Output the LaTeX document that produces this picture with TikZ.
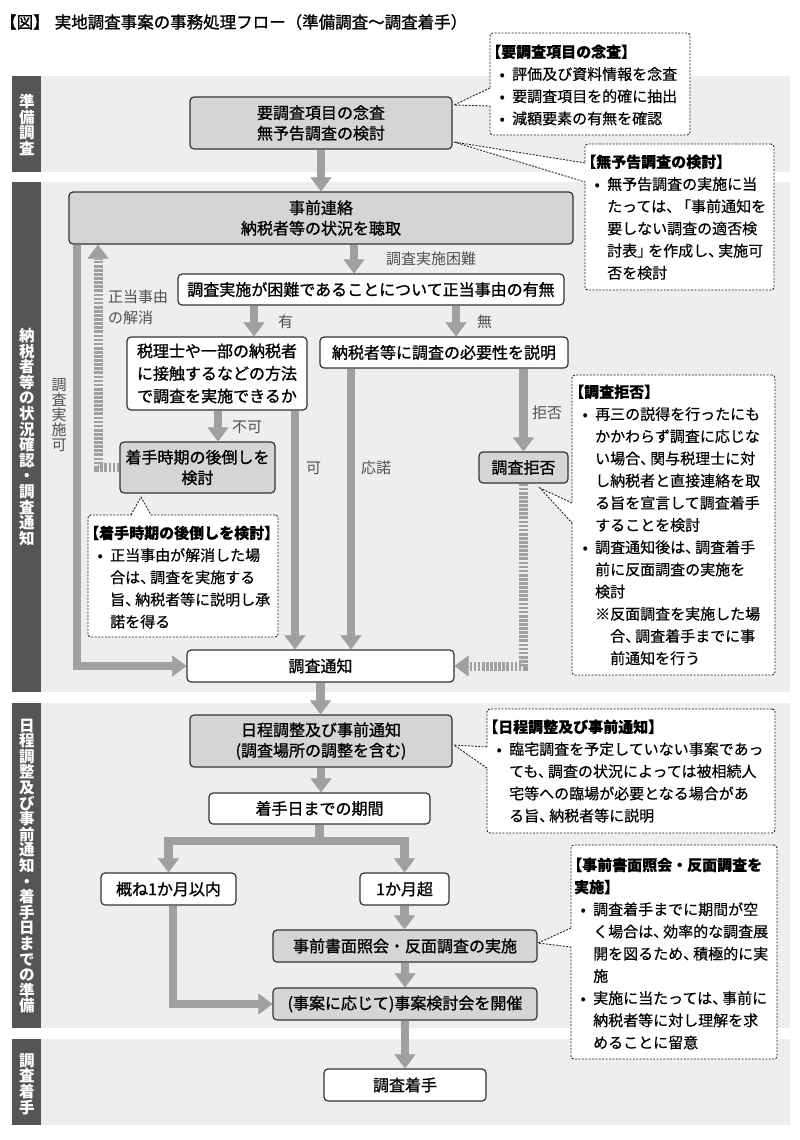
\documentclass[tikz,border=0pt]{standalone}
\usepackage{fontspec}
\newfontfamily\jp{Noto Sans CJK JP}
\newfontfamily\jpc[FakeBold=0.4]{Noto Sans CJK JP}
\newfontfamily\jpm[FakeBold=1.2]{Noto Sans CJK JP}
\usetikzlibrary{arrows.meta,calc}
\definecolor{bandc}{HTML}{EEEEEE}
\definecolor{sidec}{HTML}{555555}
\definecolor{boxg}{HTML}{D5D5D5}
\definecolor{arrc}{HTML}{A0A0A0}
\definecolor{linec}{HTML}{333333}
\definecolor{labc}{HTML}{505050}
\newcommand\cbul{\makebox[22pt][l]{\hspace*{8pt}\makebox[8pt][c]{•}}}
\newcommand\cind{\hspace*{22pt}}
\newcommand\tten{、\kern-5pt}
\newcommand\lbk{\kern-4pt}
\newcommand\tightls{\lineskiplimit=-20pt\lineskip=0pt}
\tikzset{
 box/.style={draw=linec, line width=1.2pt, rounded corners=4pt, fill=white, inner sep=0pt, align=center, font=\jpm\fontsize{16}{20.5}\selectfont},
 gbox/.style={box, fill=boxg},
 arr/.style={draw=arrc, line width=8.5pt, -{Triangle[width=21pt,length=14pt,line width=0.4pt]}},
 darr/.style={draw=arrc, line width=9pt, dash pattern=on 2.7pt off 1.4pt, -{Triangle[width=21pt,length=14pt,line width=0.4pt]}},
 cframe/.style={draw=black!85, line width=0.9pt, dash pattern=on 2pt off 1.4pt, rounded corners=3pt, fill=white, inner sep=0pt},
 cdash/.style={draw=black!85, line width=0.9pt, dash pattern=on 2pt off 1.4pt},
 ctext/.style={anchor=north west, inner sep=0pt, align=left, font=\jpc\fontsize{15}{22.2}\selectfont},
 lab/.style={inner sep=0pt, text=labc, font=\jp\fontsize{15}{15.2}\selectfont\tightls},
 side/.style={fill=sidec, draw=none},
 band/.style={fill=bandc, draw=none},
 sidetext/.style={text=white, inner sep=0pt, align=center, font=\jp\bfseries\fontsize{15.5}{15.6}\selectfont\tightls},
}
\begin{document}
\begin{tikzpicture}[x=1pt,y=-1pt]
\useasboundingbox (0,0) rectangle (800,1140);
\fill[white] (0,0) rectangle (800,1140);
% title
\node[anchor=west, inner sep=0pt, font=\jpm\fontsize{16.5}{20}\selectfont] (title) at (0,22) {【図】\hspace{5pt}実地調査事案の事務処理フロー（準備調査～調査着手）};
% bands
\fill[band] (12,76) rectangle (790,172);
\fill[band] (12,182) rectangle (790,692);
\fill[band] (12,703) rectangle (790,1028);
\fill[band] (12,1039) rectangle (790,1125);
\fill[side] (12,76) rectangle (41,172);
\fill[side] (12,182) rectangle (41,692);
\fill[side] (12,703) rectangle (41,1028);
\fill[side] (12,1039) rectangle (41,1125);
\node[sidetext] (s1) at (27,125) {準\\備\\調\\査};
\node[sidetext] (s2) at (27,437) {納\\税\\者\\等\\の\\状\\況\\確\\認\\・\\調\\査\\通\\知};
\node[sidetext] (s3) at (27,866) {日\\程\\調\\整\\及\\び\\事\\前\\通\\知\\・\\着\\手\\日\\ま\\で\\の\\準\\備};
\node[sidetext] (s4) at (27,1084) {調\\査\\着\\手};
% boxes
\node[gbox, minimum width=262pt, minimum height=52pt] (b1) at (321,123) {要調査項目の念査\\無予告調査の検討};
\node[gbox, minimum width=504pt, minimum height=52pt] (b2) at (321,218) {事前連絡\\納税者等の状況を聴取};
\node[box, minimum width=386pt, minimum height=31pt] (b3) at (371,289.5) {調査実施が困難であることについて正当事由の有無};
\node[box, minimum width=180pt, minimum height=73pt, font=\jpm\fontsize{16}{22.5}\selectfont] (b4) at (217,373.5) {税理士や一部の納税者\\に接触するなどの方法\\で調査を実施できるか};
\node[box, minimum width=248pt, minimum height=31pt] (b5) at (444,352.5) {納税者等に調査の必要性を説明};
\node[gbox, minimum width=155pt, minimum height=51pt] (b6) at (197.5,467.5) {着手時期の後倒しを\\検討};
\node[gbox, minimum width=89pt, minimum height=31pt] (b7) at (523.5,467.5) {調査拒否};
\node[box, minimum width=267pt, minimum height=32pt] (b8) at (320.5,666) {調査通知};
\node[gbox, minimum width=262pt, minimum height=52pt] (b9) at (321,741) {日程調整及び事前通知\\(調査場所の調整を含む)};
\node[box, minimum width=221pt, minimum height=31pt] (b10) at (319.5,808.5) {着手日までの期間};
\node[box, minimum width=135pt, minimum height=32pt] (b11) at (168.5,889) {概ね1か月以内};
\node[box, minimum width=89pt, minimum height=32pt] (b12) at (404.5,889) {1か月超};
\node[gbox, minimum width=264pt, minimum height=32pt] (b13) at (405,946) {事前書面照会・反面調査の実施};
\node[gbox, minimum width=264pt, minimum height=32pt] (b14) at (405,1004) {(事案に応じて)事案検討会を開催};
\node[box, minimum width=162pt, minimum height=32pt] (b15) at (405,1085) {調査着手};
% column coordinates
\coordinate (x354) at (354,0);
\coordinate (x254) at (254,0);
\coordinate (x456) at (456,0);
\coordinate (x218) at (218,0);
\coordinate (x295) at (295,0);
\coordinate (x351) at (351,0);
\coordinate (x77) at (77,0);
\coordinate (x98) at (98,0);
\coordinate (x173) at (173,0);
\coordinate (ysplit) at (0,841);
% connectors
\draw[arr] (b1.south) -- (b1.south |- b2.north);
\draw[arr] (b2.south -| x354) -- (b3.north -| x354);
\draw[arr] (b3.south -| x254) -- (b4.north -| x254);
\draw[arr] (b3.south -| x456) -- (b5.north -| x456);
\draw[arr] (b4.south -| x218) -- (b6.north -| x218);
\draw[arr] (b4.south -| x295) -- (b8.north -| x295);
\draw[arr] (b5.south -| x351) -- (b8.north -| x351);
\draw[arr] (b5.south -| b7.north) -- (b7.north);
\draw[darr] (b7.south) |- (b8.east);
\draw[arr] (b2.south -| x77) |- (b8.west);
\draw[darr] (b6.west) -| (b2.south -| x98);
\draw[arr] (b8.south) -- (b8.south |- b9.north);
\draw[arr] (b9.south) -- (b9.south |- b10.north);
\draw[arr] (b10.south) -- (b10.south |- ysplit) -| (b11.north);
\draw[arr] (b10.south) -- (b10.south |- ysplit) -| (b12.north);
\draw[arr] (b12.south) -- (b12.south |- b13.north);
\draw[arr] (b13.south) -- (b13.south |- b14.north);
\draw[arr] (b11.south -| x173) |- (b14.west);
\draw[arr] (b14.south) -- (b14.south |- b15.north);
% labels
\node[lab, anchor=west] (l1) at (386,259) {調査実施困難};
\node[lab, anchor=west] (l2) at (278,322) {有};
\node[lab, anchor=west] (l3) at (477,322) {無};
\node[lab, anchor=west] (l4) at (232,427) {不可};
\node[lab, anchor=west] (l5) at (306,468) {可};
\node[lab, anchor=west] (l6) at (361,468) {応諾};
\node[lab, anchor=west] (l7) at (532,413) {拒否};
\node[lab, anchor=north west, align=left, font=\jp\fontsize{15}{21}\selectfont] (l8) at (108,289.5) {正当事由\\の解消};
\node[lab, align=center] (l9) at (59,415) {調\\査\\実\\施\\可};
% callout frames
\node[cframe, minimum width=200pt, minimum height=102pt] (cA) at (590,84) {};
\node[cframe, minimum width=189pt, minimum height=146pt] (cB) at (679.5,217) {};
\node[cframe, minimum width=190pt, minimum height=122pt] (cC) at (183,576) {};
\node[cframe, minimum width=203pt, minimum height=300pt] (cD) at (673.5,525) {};
\node[cframe, minimum width=288pt, minimum height=124pt] (cE) at (631,771) {};
\node[cframe, minimum width=206pt, minimum height=214pt] (cF) at (674,952) {};
% pointers
\coordinate (pA) at (454,105); \coordinate (pA1) at (490,88); \coordinate (pA2) at (490,106);
\coordinate (pB) at (454,142); \coordinate (pB1) at (585,163); \coordinate (pB2) at (585,182);
\coordinate (pC) at (141,497); \coordinate (pC1) at (131,515); \coordinate (pC2) at (151,515);
\coordinate (pD) at (540,488); \coordinate (pD1) at (572,503); \coordinate (pD2) at (572,523);
\coordinate (pE) at (454,745); \coordinate (pE1) at (487,747); \coordinate (pE2) at (487,768);
\coordinate (pF) at (538,943); \coordinate (pF1) at (571,928); \coordinate (pF2) at (571,947);
\foreach \p in {A,B,D,E,F}{
 \fill[white] (p\p) -- ($(p\p1)+(1.5,0)$) -- ($(p\p2)+(1.5,0)$) -- cycle;
 \draw[cdash] (p\p1) -- (p\p) -- (p\p2);
}
\fill[white] (pC) -- ($(pC1)+(0,1.5)$) -- ($(pC2)+(0,1.5)$) -- cycle;
\draw[cdash] (pC1) -- (pC) -- (pC2);
% callout texts
\node[ctext] (tA) at (490,44.5) {{\bfseries\lbk【要調査項目の念査】}\\
\cbul 評価及び資料情報を念査\\
\cbul 要調査項目を的確に抽出\\
\cbul 減額要素の有無を確認};
\node[ctext] (tB) at (585,154.5) {{\bfseries\lbk【無予告調査の検討】}\\
\cbul 無予告調査の実施に当\\
\cind たっては\tten「事前通知を\\
\cind 要しない調査の適否検\\
\cind 討表」\kern-4pt を作成し\tten 実施可\\
\cind 否を検討};
\node[ctext] (tC) at (88,525.5) {{\bfseries\lbk【着手時期の後倒しを検討】}\\
\cbul 正当事由が解消した場\\
\cind 合は\tten 調査を実施する\\
\cind 旨\tten 納税者等に説明し承\\
\cind 諾を得る};
\node[ctext] (tD) at (573,384.5) {{\bfseries\lbk【調査拒否】}\\
\cbul 再三の説得を行ったにも\\
\cind かかわらず調査に応じな\\
\cind い場合\tten 関与税理士に対\\
\cind し納税者と直接連絡を取\\
\cind る旨を宣言して調査着手\\
\cind することを検討\\
\cbul 調査通知後は\tten 調査着手\\
\cind 前に反面調査の実施を\\
\cind 検討\\
\cind ※反面調査を実施した場\\
\cind\hspace*{15pt}合\tten 調査着手までに事\\
\cind\hspace*{15pt}前通知を行う};
\node[ctext] (tE) at (487,719.5) {{\bfseries\lbk【日程調整及び事前通知】}\\
\cbul 臨宅調査を予定していない事案であっ\\
\cind ても\tten 調査の状況によっては被相続人\\
\cind 宅等への臨場が必要となる場合があ\\
\cind る旨\tten 納税者等に説明};
\node[ctext] (tF) at (571,857.5) {{\bfseries\lbk【事前書面照会・反面調査を}\\
{\bfseries\hspace*{3pt}実施】}\\
\cbul 調査着手までに期間が空\\
\cind く場合は\tten 効率的な調査展\\
\cind 開を図るため\tten 積極的に実\\
\cind 施\\
\cbul 実施に当たっては\tten 事前に\\
\cind 納税者等に対し理解を求\\
\cind めることに留意};
\end{tikzpicture}
\end{document}
